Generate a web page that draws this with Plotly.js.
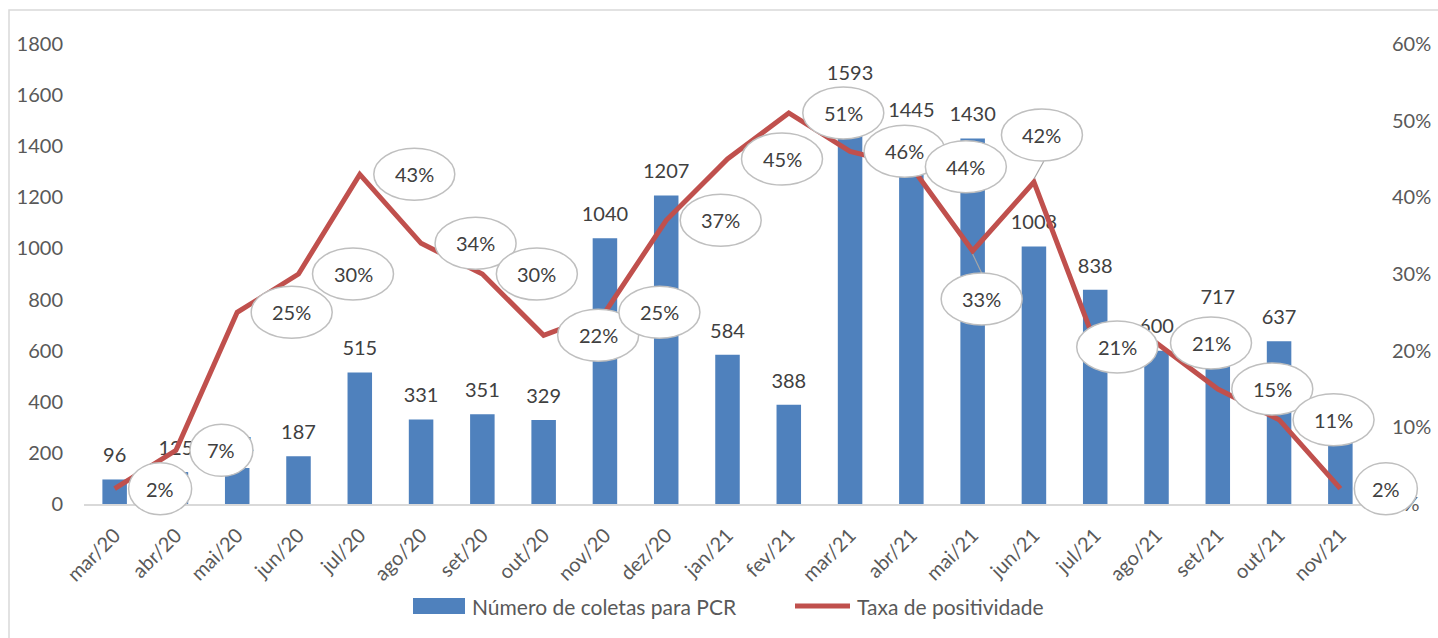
<!DOCTYPE html>
<html><head><meta charset="utf-8">
<script src="https://cdn.plot.ly/plotly-3.0.1.min.js"></script>
<style>html,body{margin:0;padding:0;background:#fff}#chart{width:1438px;height:638px}</style>
</head><body><div id="chart"></div>
<script>
// ---- data ----
const meses = ['mar/20','abr/20','mai/20','jun/20','jul/20','ago/20','set/20','out/20','nov/20','dez/20',
  'jan/21','fev/21','mar/21','abr/21','mai/21','jun/21','jul/21','ago/21','set/21','out/21','nov/21'];
const coletas = [96,125,141,187,515,331,351,329,1040,1207,584,388,1593,1445,1430,1008,838,600,717,637,250];
const taxa = [0.02,0.07,0.25,0.30,0.43,0.34,0.30,0.22,0.25,0.37,0.45,0.51,0.46,0.44,0.33,0.42,0.21,0.21,0.15,0.11,0.02];
const serieBarras = 'Número de coletas para PCR';
const serieLinha = 'Taxa de positividade';
const ticksEsq = [0,200,400,600,800,1000,1200,1400,1600,1800];
const ticksDir = [0,0.1,0.2,0.3,0.4,0.5,0.6];

// ---- layout constants ----
const W=1438, H=638, M={l:84,r:67,t:44,b:134};
const PW=W-M.l-M.r, PH=H-M.t-M.b;
const px = x => (x-M.l)/PW;
const py = y => (H-M.b-y)/PH;
const FONT='Lato, "Open Sans", sans-serif';
const TXT='#404040', TICK='#595959', AZUL='#4F81BD', VERM='#C0504D', CINZA='#BFBFBF';
const EH=52;               // ellipse height (px)
const desloc={14:[9,48],15:[8,-47],16:[22,4]}; // manual callout offsets [dx, dy(down)]

const baseShapes=[], annotations=[];
// chart border
baseShapes.push({type:'rect',xref:'paper',yref:'paper',x0:px(9),x1:px(1600),y0:py(10),y1:py(800),
  line:{color:'#D9D9D9',width:1.5},fillcolor:'rgba(0,0,0,0)',layer:'below'});
// custom legend
baseShapes.push({type:'rect',xref:'paper',yref:'paper',x0:px(413),x1:px(465),y0:py(614),y1:py(598),
  fillcolor:AZUL,line:{width:0}});
baseShapes.push({type:'line',xref:'paper',yref:'paper',x0:px(795),x1:px(850),y0:py(606),y1:py(606),
  line:{color:VERM,width:5}});
annotations.push({xref:'paper',yref:'paper',x:px(470),y:py(606),xanchor:'left',yanchor:'middle',
  text:serieBarras,showarrow:false,font:{family:FONT,size:21,color:TICK}});
annotations.push({xref:'paper',yref:'paper',x:px(855),y:py(606),xanchor:'left',yanchor:'middle',
  text:serieLinha,showarrow:false,font:{family:FONT,size:21,color:TICK}});

const callouts = meses.map((m,i)=>{
  const lbl=Math.round(taxa[i]*100)+'%';
  const ew = lbl.length>=3 ? 81 : 63;
  const off = desloc[i] || [14+ew/2, 0];
  return {m:m, v:taxa[i], lbl:lbl, ew:ew, dx:off[0], dy:off[1], lead: !!desloc[i] && Math.abs(off[1])>30};
});
callouts.forEach(c=>{
  annotations.push({x:c.m,y:c.v,xref:'x',yref:'y2',text:c.lbl,showarrow:false,
    xshift:c.dx,yshift:-c.dy,xanchor:'center',yanchor:'middle',font:{family:FONT,size:20,color:TXT}});
});

const traces=[
  {type:'bar',x:meses,y:coletas,name:serieBarras,marker:{color:AZUL},hoverinfo:'x+y',showlegend:false},
  {type:'scatter',mode:'markers+text',x:meses,y:coletas,text:coletas.map(String),textposition:'top center',
    marker:{size:18,color:'rgba(0,0,0,0)'},textfont:{family:FONT,size:20,color:TXT},
    hoverinfo:'skip',showlegend:false,cliponaxis:false},
  {type:'scatter',mode:'lines',x:meses,y:taxa,yaxis:'y2',name:serieLinha,
    line:{color:VERM,width:5,shape:'linear'},showlegend:false,cliponaxis:false}
];

const layout={
  width:W,height:H,margin:M,paper_bgcolor:'#fff',plot_bgcolor:'#fff',
  font:{family:FONT,size:20,color:TICK},
  bargap:0.6,showlegend:false,
  xaxis:{type:'category',range:[-0.5,meses.length-0.5],showgrid:false,zeroline:false,
    showline:true,linecolor:'#D9D9D9',linewidth:1.5,ticks:'',tickangle:-45,
    tickfont:{family:FONT,size:20,color:TICK},ticklabelstandoff:10},
  yaxis:{range:[0,1800],tickvals:ticksEsq,showgrid:false,zeroline:false,showline:false,ticks:'',
    tickfont:{family:FONT,size:20,color:TICK},ticklabelstandoff:20},
  yaxis2:{range:[0,0.6],overlaying:'y',side:'right',tickvals:ticksDir,tickformat:'.0%',
    showgrid:false,zeroline:false,showline:false,ticks:'',
    tickfont:{family:FONT,size:20,color:TICK},ticklabelstandoff:20},
  shapes:baseShapes,annotations:annotations
};

Plotly.newPlot('chart',traces,layout,{displayModeBar:false}).then(gd=>{
  // place callout ellipses in paper space (unclipped), positioned through Plotly's own axis scales
  const xa=gd._fullLayout.xaxis, ya=gd._fullLayout.yaxis2;
  const extra=[];
  callouts.forEach(c=>{
    const xp = xa.d2p(c.m)/xa._length;
    const yp = 1 - ya.d2p(c.v)/ya._length;
    if(c.lead){
      const s = c.dy>0 ? 1 : -1;
      extra.push({type:'line',xref:'paper',yref:'paper',xsizemode:'pixel',ysizemode:'pixel',
        xanchor:xp,yanchor:yp,x0:0,y0:-s*3,x1:c.dx+(s<0?2:0),y1:-(c.dy - s*EH/2),
        line:{color:'#A6A6A6',width:1.2},layer:'above'});
    }
    extra.push({type:'circle',xref:'paper',yref:'paper',xsizemode:'pixel',ysizemode:'pixel',
      xanchor:xp,yanchor:yp,x0:c.dx-c.ew/2,x1:c.dx+c.ew/2,y0:-c.dy-EH/2,y1:-c.dy+EH/2,
      fillcolor:'#ffffff',line:{color:CINZA,width:1.5},layer:'above'});
  });
  return Plotly.relayout(gd,{shapes:baseShapes.concat(extra)});
});
</script></body></html>
